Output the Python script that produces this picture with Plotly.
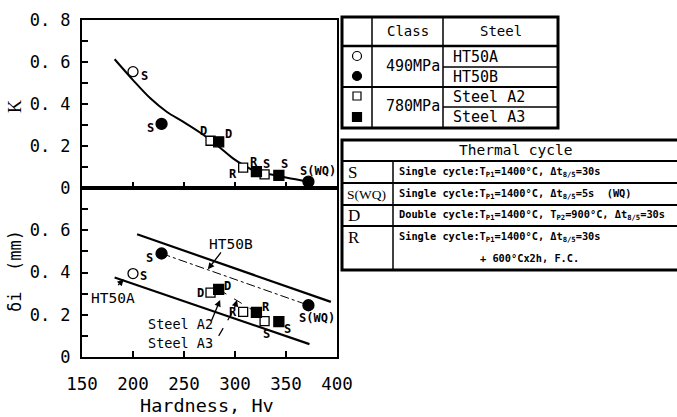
import plotly.graph_objects as go

W, H = 677, 417


def PX(x):
    return x / W


def PY(y):
    return 1 - y / H


# ---------------- data ----------------
hv_ht50a = [200]
k_ht50a = [0.554]
d_ht50a = [0.395]
cyc_ht50a = ["S"]

hv_ht50b = [228, 372]
k_ht50b = [0.305, 0.03]
d_ht50b = [0.49, 0.245]
cyc_ht50b = ["S", "S(WQ)"]

hv_a2 = [276, 308, 329]
k_a2 = [0.225, 0.097, 0.065]
d_a2 = [0.305, 0.214, 0.17]
cyc_a2 = ["D", "R", "S"]

hv_a3 = [284, 321, 343]
k_a3 = [0.22, 0.078, 0.06]
d_a3 = [0.32, 0.211, 0.167]
cyc_a3 = ["D", "R", "S"]

curve_hv = [182, 200, 217, 233, 249, 266, 282, 298, 308, 321, 341, 351, 373]
curve_k = [0.613, 0.514, 0.427, 0.363, 0.316, 0.263, 0.205, 0.141, 0.11, 0.078, 0.06, 0.049, 0.03]

band_hi_hv = [204, 394]
band_hi_d = [0.581, 0.261]
band_lo_hv = [182, 373]
band_lo_d = [0.376, 0.061]
ht50b_trend_hv = [228, 372]
ht50b_trend_d = [0.49, 0.245]
a3_trend_hv = [284, 321]
a3_trend_d = [0.32, 0.211]

x_ticks = [150, 200, 250, 300, 350, 400]
x_ticktext = ["150", "200", "250", "300", "350", "400"]
y_ticks = [0, 0.1, 0.2, 0.3, 0.4, 0.5, 0.6, 0.7, 0.8]
k_ticktext = ["0", "", "0. 2", "", "0. 4", "", "0. 6", "", "0. 8"]
d_ticktext = ["0", "", "0. 2", "", "0. 4", "", "0. 6", "", ""]

# ---------------- styles ----------------
MONO = "DejaVu Sans Mono, Liberation Mono, monospace"
SERIF = "Liberation Serif, serif"
BLACK = "black"

series = [
    dict(hv=hv_ht50a, k=k_ht50a, d=d_ht50a, cyc=cyc_ht50a, symbol="circle", fill="white", size=10,
         top_off=[(11, -4)], bot_off=[(10, -2)]),
    dict(hv=hv_ht50b, k=k_ht50b, d=d_ht50b, cyc=cyc_ht50b, symbol="circle", fill=BLACK, size=11,
         top_off=[(-11, -4), (10, 11)], bot_off=[(-12, -5), (9, -13)]),
    dict(hv=hv_a2, k=k_a2, d=d_a2, cyc=cyc_a2, symbol="square", fill="white", size=9,
         top_off=[(-7, 10), (-10, -6), (2, 10)], bot_off=[(-10, 0), (-10, 0), (2, -13)]),
    dict(hv=hv_a3, k=k_a3, d=d_a3, cyc=cyc_a3, symbol="square", fill=BLACK, size=10,
         top_off=[(10, 8), (-2, 10), (6, 11)], bot_off=[(9, 3), (10, 5), (9, -7)]),
]

fig = go.Figure()

# ---------- top: K ----------
fig.add_trace(go.Scatter(x=curve_hv, y=curve_k, mode="lines", line=dict(color=BLACK, width=2, shape="spline"),
                         xaxis="x", yaxis="y", hoverinfo="skip"))
# ---------- bottom: delta ----------
fig.add_trace(go.Scatter(x=band_hi_hv, y=band_hi_d, mode="lines", line=dict(color=BLACK, width=2.2),
                         xaxis="x2", yaxis="y2"))
fig.add_trace(go.Scatter(x=band_lo_hv, y=band_lo_d, mode="lines", line=dict(color=BLACK, width=2.2),
                         xaxis="x2", yaxis="y2"))
fig.add_trace(go.Scatter(x=ht50b_trend_hv, y=ht50b_trend_d, mode="lines",
                         line=dict(color=BLACK, width=1, dash="dashdot"), xaxis="x2", yaxis="y2"))
fig.add_trace(go.Scatter(x=a3_trend_hv, y=a3_trend_d, mode="lines",
                         line=dict(color=BLACK, width=1, dash="dash"), xaxis="x2", yaxis="y2"))

annotations = []
lab_font = dict(family=MONO, size=12, color=BLACK)
for s in series:
    mk = dict(symbol=s["symbol"], size=s["size"], color=s["fill"], line=dict(color=BLACK, width=1.3))
    fig.add_trace(go.Scatter(x=s["hv"], y=s["k"], mode="markers", marker=mk, xaxis="x", yaxis="y"))
    fig.add_trace(go.Scatter(x=s["hv"], y=s["d"], mode="markers", marker=mk, xaxis="x2", yaxis="y2"))
    for i, c in enumerate(s["cyc"]):
        dx, dy = s["top_off"][i]
        annotations.append(dict(x=s["hv"][i], y=s["k"][i], xref="x", yref="y", text="<b>" + c + "</b>",
                                showarrow=False, xshift=dx, yshift=dy, font=lab_font))
        dx, dy = s["bot_off"][i]
        annotations.append(dict(x=s["hv"][i], y=s["d"][i], xref="x2", yref="y2", text="<b>" + c + "</b>",
                                showarrow=False, xshift=dx, yshift=dy, font=lab_font))

# text labels in lower panel
annotations += [
    dict(x=296.5, y=0.535, xref="x2", yref="y2", text="HT50B", showarrow=False,
         font=dict(family=MONO, size=14.5, color=BLACK)),
    dict(x=180, y=0.28, xref="x2", yref="y2", text="HT50A", showarrow=False,
         font=dict(family=MONO, size=14.5, color=BLACK)),
    dict(x=247, y=0.158, xref="x2", yref="y2", text="Steel A2", showarrow=False,
         font=dict(family=MONO, size=13.5, color=BLACK)),
    dict(x=247, y=0.064, xref="x2", yref="y2", text="Steel A3", showarrow=False,
         font=dict(family=MONO, size=13.5, color=BLACK)),
]
arrow = dict(xref="x2", yref="y2", axref="x2", ayref="y2", text="", showarrow=True,
             arrowhead=2, arrowsize=1, arrowwidth=1.3, arrowcolor=BLACK)
annotations += [
    dict(arrow, x=273.4, y=0.415, ax=287.4, ay=0.502),
    dict(arrow, x=191, y=0.368, ax=184, ay=0.333),
    dict(arrow, x=285.4, y=0.27, ax=276.3, ay=0.165),
    dict(arrow, x=302, y=0.27, ax=299, ay=0.225),
]

# axis titles
annotations += [
    dict(x=PX(15), y=PY(107), xref="paper", yref="paper", xanchor="center", yanchor="middle",
         text="K", textangle=-90, showarrow=False, font=dict(family=SERIF, size=18, color=BLACK)),
    dict(x=PX(15), y=PY(271), xref="paper", yref="paper", xanchor="center", yanchor="middle",
         text="δi  (mm)", textangle=-90, showarrow=False, font=dict(family=MONO, size=17, color=BLACK)),
    dict(x=PX(207), y=PY(405), xref="paper", yref="paper", xanchor="center", yanchor="middle",
         text="Hardness, Hv", showarrow=False, font=dict(family=MONO, size=18.5, color=BLACK)),
]

# ---------------- tables ----------------
shapes = []

# dashed leader of the Steel A3 arrow
shapes.append(dict(type="line", xref="x2", yref="y2", x0=284, y0=0.10, x1=299, y1=0.225,
                   line=dict(color=BLACK, width=1.2, dash="dash")))


def line(x0, y0, x1, y1, w=1.5):
    shapes.append(dict(type="line", xref="paper", yref="paper", x0=PX(x0), y0=PY(y0), x1=PX(x1), y1=PY(y1),
                       line=dict(color=BLACK, width=w)))


def rect(x0, y0, x1, y1, w=1.5, fill=None):
    shapes.append(dict(type="rect", xref="paper", yref="paper", x0=PX(x0), y0=PY(y0), x1=PX(x1), y1=PY(y1),
                       line=dict(color=BLACK, width=w), fillcolor=fill if fill else "rgba(0,0,0,0)"))


def circ(cx, cy, r, fill):
    shapes.append(dict(type="circle", xref="paper", yref="paper", x0=PX(cx - r), y0=PY(cy + r),
                       x1=PX(cx + r), y1=PY(cy - r), line=dict(color=BLACK, width=1.2), fillcolor=fill))


def txt(x, y, t, size, family=MONO, anchor="center"):
    annotations.append(dict(x=PX(x), y=PY(y), xref="paper", yref="paper", text=t, showarrow=False,
                            xanchor=anchor, yanchor="middle", font=dict(family=family, size=size, color=BLACK)))


# table 1
rect(342, 17, 558, 128, w=3)
line(372, 17, 372, 128)
line(443, 17, 443, 128)
line(342, 46, 558, 46, w=2.5)
line(342, 87, 558, 87, w=2)
line(443, 67, 558, 67)
line(443, 107, 558, 107)
circ(357, 56, 4.5, "white")
circ(357, 76, 4.5, BLACK)
rect(353, 92, 361, 100, w=1.2)
rect(352.5, 112.5, 361.5, 121.5, w=1.2, fill=BLACK)
txt(408, 31, "Class", 14)
txt(501, 31, "Steel", 14)
txt(413, 66, "490MPa", 15)
txt(413, 106, "780MPa", 15)
txt(451, 57, "HT50A", 15, anchor="left")
txt(451, 77, "HT50B", 15, anchor="left")
txt(451, 97, "Steel A2", 15, anchor="left")
txt(451, 117, "Steel A3", 15, anchor="left")

# table 2
rect(342, 140, 690, 270, w=3)
line(342, 161, 690, 161, w=2)
line(342, 183, 690, 183, w=2)
line(342, 205, 690, 205, w=2)
line(342, 226, 690, 226, w=2)
line(393, 161, 393, 270, w=1.5)
txt(516, 150, "Thermal cycle", 14.5)
txt(346, 172, "S", 17, family=SERIF, anchor="left")
txt(345, 194, "S(WQ)", 13.5, family=SERIF, anchor="left")
txt(346, 215, "D", 17, family=SERIF, anchor="left")
txt(346, 237, "R", 17, family=SERIF, anchor="left")
DS = 10.3
txt(397, 172, "<b>Single cycle:T<sub>P1</sub>=1400°C, Δt<sub>8/5</sub>=30s</b>", DS, anchor="left")
txt(397, 194, "<b>Single cycle:T<sub>P1</sub>=1400°C, Δt<sub>8/5</sub>=5s  (WQ)</b>", DS, anchor="left")
txt(397, 215, "<b>Double cycle:T<sub>P1</sub>=1400°C, T<sub>P2</sub>=900°C, Δt<sub>8/5</sub>=30s</b>", DS,
    anchor="left")
txt(397, 237, "<b>Single cycle:T<sub>P1</sub>=1400°C, Δt<sub>8/5</sub>=30s</b>", DS, anchor="left")
txt(478, 258, "<b>+ 600°Cx2h, F.C.</b>", DS, anchor="left")

# ---------------- axes ----------------
xdom = [PX(82), PX(337)]
common_x = dict(domain=xdom, range=[150, 400], showgrid=False, zeroline=False, showline=True,
                linecolor=BLACK, linewidth=2, mirror=True, ticks="inside", ticklen=6, tickwidth=1.5,
                tickcolor=BLACK, tickvals=x_ticks, ticktext=x_ticktext, automargin=False)
common_y = dict(range=[0, 0.8], showgrid=False, zeroline=False, showline=True, linecolor=BLACK, linewidth=2,
                mirror=True, ticks="inside", ticklen=6, tickwidth=1.5, tickcolor=BLACK, tickvals=y_ticks,
                tickfont=dict(family=MONO, size=17, color=BLACK), ticklabelstandoff=6, automargin=False)

fig.update_layout(
    width=W, height=H, margin=dict(l=0, r=0, t=0, b=0, pad=0, autoexpand=False),
    paper_bgcolor="white", plot_bgcolor="white", showlegend=False,
    xaxis=dict(common_x, anchor="y", showticklabels=False),
    yaxis=dict(common_y, domain=[PY(188), PY(20)], anchor="x", ticktext=k_ticktext),
    xaxis2=dict(common_x, anchor="y2", showticklabels=True,
                tickfont=dict(family=MONO, size=17.5, color=BLACK), ticklabelstandoff=10),
    yaxis2=dict(common_y, domain=[PY(357), PY(188)], anchor="x2", ticktext=d_ticktext),
    annotations=annotations,
    shapes=shapes,
)

fig.write_html("out.html")
